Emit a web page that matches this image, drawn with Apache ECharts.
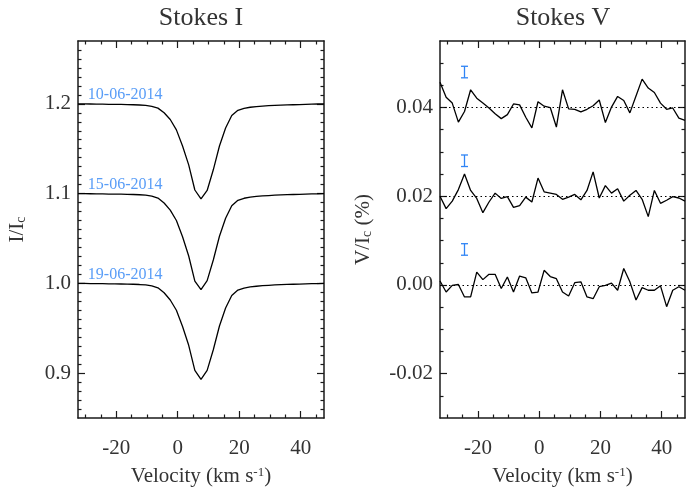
<!DOCTYPE html>
<html><head><meta charset="utf-8">
<script src="https://cdn.jsdelivr.net/npm/echarts@6/dist/echarts.min.js"></script>
<style>html,body{margin:0;padding:0;background:#fff}#c{width:686px;height:492px}</style>
</head><body><div id="c"></div>
<script>
// ---- data ----
const velocity = [-32.4,-30.4,-28.4,-26.4,-24.4,-22.4,-20.4,-18.4,-16.4,-14.4,-12.4,-10.4,-8.4,-6.4,-4.4,-2.4,-0.4,1.6,3.6,5.6,7.6,9.6,11.6,13.6,15.6,17.6,19.6,21.6,23.6,25.6,27.6,29.6,31.6,33.6,35.6,37.6,39.6,41.6,43.6,45.6,47.6];

const stokesI_1006 = [1.2000,1.1999,1.1998,1.1997,1.1996,1.1995,1.1994,1.1993,1.1992,1.1990,1.1987,1.1982,1.1972,1.1952,1.1900,1.1825,1.1710,1.1530,1.1320,1.1040,1.0940,1.1035,1.1265,1.1530,1.1730,1.1870,1.1928,1.1950,1.1962,1.1970,1.1975,1.1979,1.1982,1.1985,1.1988,1.1990,1.1992,1.1994,1.1996,1.1998,1.1999];
const stokesI_1506 = [1.1000,1.0999,1.0998,1.0997,1.0996,1.0995,1.0994,1.0993,1.0992,1.0990,1.0987,1.0982,1.0972,1.0950,1.0895,1.0815,1.0700,1.0520,1.0305,1.0025,0.9930,1.0030,1.0260,1.0525,1.0725,1.0865,1.0925,1.0948,1.0960,1.0968,1.0974,1.0978,1.0982,1.0985,1.0988,1.0990,1.0992,1.0994,1.0996,1.0998,1.0999];
const stokesI_1906 = [1.0000,0.9999,0.9998,0.9997,0.9996,0.9995,0.9994,0.9993,0.9992,0.9990,0.9987,0.9982,0.9972,0.9950,0.9895,0.9815,0.9700,0.9520,0.9310,0.9030,0.8930,0.9030,0.9260,0.9525,0.9725,0.9865,0.9925,0.9948,0.9960,0.9968,0.9974,0.9978,0.9982,0.9985,0.9988,0.9990,0.9992,0.9994,0.9996,0.9998,0.9999];

const stokesV_1006 = [0.0457,0.0423,0.0410,0.0367,0.0391,0.0440,0.0421,0.0410,0.0399,0.0386,0.0375,0.0384,0.0408,0.0406,0.0378,0.0354,0.0413,0.0403,0.0400,0.0356,0.0440,0.0397,0.0396,0.0390,0.0396,0.0404,0.0417,0.0366,0.0401,0.0425,0.0416,0.0388,0.0426,0.0464,0.0444,0.0434,0.0410,0.0396,0.0399,0.0376,0.0371];
const stokesV_1506 = [0.0200,0.0172,0.0189,0.0215,0.0250,0.0213,0.0195,0.0163,0.0187,0.0207,0.0195,0.0199,0.0175,0.0179,0.0198,0.0187,0.0241,0.0210,0.0207,0.0204,0.0193,0.0198,0.0204,0.0192,0.0213,0.0255,0.0196,0.0224,0.0207,0.0217,0.0189,0.0202,0.0213,0.0193,0.0154,0.0213,0.0184,0.0191,0.0199,0.0196,0.0189];
const stokesV_1906 = [0.0009,-0.0016,-0.0001,0.0001,-0.0027,-0.0027,0.0029,0.0012,0.0024,0.0024,-0.0008,0.0018,-0.0016,0.0020,0.0016,-0.0018,-0.0016,0.0033,0.0019,0.0014,-0.0016,-0.0025,0.0005,0.0007,-0.0027,-0.0031,-0.0004,-0.0001,0.0004,-0.0012,0.0037,0.0007,-0.0034,-0.0006,-0.0012,-0.0012,-0.0002,-0.0049,-0.0012,-0.0004,-0.0012];

const dates = ['10-06-2014','15-06-2014','19-06-2014'];
const dateLabelX = [-29.2,-29.2,-29.2];
const dateLabelY = [1.2105,1.1103,1.0100];

const vZeroLevels = [0.04,0.02,0.00];
const errBarX = [-24.4,-24.4,-24.4];
const errBarY = [0.048,0.028,0.008];
const errBarHalf = [0.0013,0.0013,0.0013];

const xMajorTicks = [-20,0,20,40];
const xMinorTicks = [-30,-25,-15,-10,-5,5,10,15,25,30,35,45];
const iMajorTicks = [0.9,1.0,1.1,1.2];
const iMinorTicks = [0.86,0.87,0.88,0.89,0.91,0.92,0.93,0.94,0.95,0.96,0.97,0.98,0.99,1.01,1.02,1.03,1.04,1.05,1.06,1.07,1.08,1.09,1.11,1.12,1.13,1.14,1.15,1.16,1.17,1.18,1.19,1.21,1.22,1.23,1.24,1.25,1.26];
const vMajorTicks = [-0.02,0.00,0.02,0.04];
const vMinorTicks = [-0.025,-0.015,-0.01,-0.005,0.005,0.01,0.015,0.025,0.03,0.035,0.045,0.05];

// ---- styling ----
const FONT = 'Liberation Serif';
const AX = '#1a1a1a';
const TXT = '#333';
const BLUE = '#2f84f5';
const xMin = -32.4, xMax = 47.6;

function xAxes(g, name) {
  const base = {gridIndex:g, type:'value', min:xMin, max:xMax, splitLine:{show:false}};
  const line = () => ({show:true, onZero:false, lineStyle:{color:AX, width:1.5}});
  const noLine = () => ({show:false, onZero:false});
  const tMaj = () => ({show:true, inside:true, length:7, customValues:xMajorTicks, lineStyle:{color:AX, width:1.2}});
  const tMin = () => ({show:true, inside:true, length:3.5, customValues:xMinorTicks, lineStyle:{color:AX, width:1.2}});
  return [
    Object.assign({}, base, {position:'bottom', axisLine:line(), axisTick:tMaj(),
      axisLabel:{show:true, customValues:xMajorTicks, margin:20, fontSize:21, fontFamily:FONT, color:TXT},
      name:name, nameLocation:'middle', nameGap:48,
      nameTextStyle:{fontSize:21, fontFamily:FONT, color:TXT,
        rich:{sup:{fontSize:13, fontFamily:FONT, color:TXT, verticalAlign:'top', lineHeight:14}}}}),
    Object.assign({}, base, {position:'top', axisLine:line(), axisTick:tMaj(), axisLabel:{show:false}}),
    Object.assign({}, base, {position:'bottom', axisLine:noLine(), axisTick:tMin(), axisLabel:{show:false}}),
    Object.assign({}, base, {position:'top', axisLine:noLine(), axisTick:tMin(), axisLabel:{show:false}})
  ];
}
function yAxes(g, min, max, major, minor, digits, name, gap) {
  const base = {gridIndex:g, type:'value', min:min, max:max, splitLine:{show:false}};
  const line = () => ({show:true, onZero:false, lineStyle:{color:AX, width:1.5}});
  const noLine = () => ({show:false, onZero:false});
  const tMaj = () => ({show:true, inside:true, length:7, customValues:major, lineStyle:{color:AX, width:1.2}});
  const tMin = () => ({show:true, inside:true, length:3.5, customValues:minor, lineStyle:{color:AX, width:1.2}});
  return [
    Object.assign({}, base, {position:'left', axisLine:line(), axisTick:tMaj(),
      axisLabel:{show:true, customValues:major, margin:7, fontSize:21, fontFamily:FONT, color:TXT,
        formatter:v => Number(v).toFixed(digits)},
      name:name, nameLocation:'middle', nameGap:gap,
      nameTextStyle:{fontSize:21, fontFamily:FONT, color:TXT,
        rich:{sub:{fontSize:14, fontFamily:FONT, color:TXT, verticalAlign:'bottom', lineHeight:14}}}}),
    Object.assign({}, base, {position:'right', axisLine:line(), axisTick:tMaj(), axisLabel:{show:false}}),
    Object.assign({}, base, {position:'left', axisLine:noLine(), axisTick:tMin(), axisLabel:{show:false}}),
    Object.assign({}, base, {position:'right', axisLine:noLine(), axisTick:tMin(), axisLabel:{show:false}})
  ];
}

const zip = (xs, ys) => xs.map((x, i) => [x, ys[i]]);
const lineSeries = (ax, ys) => ({type:'line', xAxisIndex:ax, yAxisIndex:ax, data:zip(velocity, ys),
  showSymbol:false, symbol:'none', silent:true, animation:false,
  lineStyle:{color:'#000', width:1.3}});

const series = [
  lineSeries(0, stokesI_1006), lineSeries(0, stokesI_1506), lineSeries(0, stokesI_1906),
  {type:'scatter', xAxisIndex:0, yAxisIndex:0, symbolSize:0, silent:true, animation:false,
    data: dates.map((d, i) => ({name:d, value:[dateLabelX[i], dateLabelY[i]]})),
    label:{show:true, position:'right', distance:0, formatter:p => p.name,
      fontSize:16, fontFamily:FONT, color:BLUE}},
  Object.assign(lineSeries(4, stokesV_1006), {markLine:{silent:true, symbol:'none', animation:false,
    label:{show:false}, lineStyle:{color:'#000', width:1.2, type:[1.5,3]},
    data: vZeroLevels.map(y => ({yAxis:y}))}}),
  lineSeries(4, stokesV_1506), lineSeries(4, stokesV_1906),
  {type:'custom', xAxisIndex:4, yAxisIndex:4, silent:true, animation:false,
    data: errBarY.map((y, i) => [errBarX[i], y, errBarHalf[i]]),
    renderItem: (params, api) => {
      const x = api.value(0), y = api.value(1), e = api.value(2);
      const t = api.coord([x, y + e]), b = api.coord([x, y - e]);
      const w = 3.5, st = {stroke:BLUE, lineWidth:1.3};
      return {type:'group', children:[
        {type:'line', shape:{x1:t[0], y1:t[1], x2:b[0], y2:b[1]}, style:st},
        {type:'line', shape:{x1:t[0]-w, y1:t[1], x2:t[0]+w, y2:t[1]}, style:st},
        {type:'line', shape:{x1:b[0]-w, y1:b[1], x2:b[0]+w, y2:b[1]}, style:st}
      ]};
    }}
];

const chart = echarts.init(document.getElementById('c'), null, {renderer:'canvas'});
chart.setOption({
  animation:false,
  backgroundColor:'#fff',
  title:[
    {text:'Stokes I', left:201, top:5, padding:0, textAlign:'center', textStyle:{fontSize:26, fontWeight:'normal', fontFamily:FONT, color:TXT}},
    {text:'Stokes V', left:563, top:5, padding:0, textAlign:'center', textStyle:{fontSize:26, fontWeight:'normal', fontFamily:FONT, color:TXT}}
  ],
  grid:[
    {left:78, top:41, width:246, height:378},
    {left:440, top:41, width:245, height:378}
  ],
  xAxis: xAxes(0, 'Velocity (km s{sup|-1})').concat(xAxes(1, 'Velocity (km s{sup|-1})')),
  yAxis: yAxes(0, 0.85, 1.27, iMajorTicks, iMinorTicks, 1, 'I/I{sub|c}', 50)
    .concat(yAxes(1, -0.03, 0.055, vMajorTicks, vMinorTicks, 2, 'V/I{sub|c} (%)', 66)),
  series: series
});
</script>
</body></html>
